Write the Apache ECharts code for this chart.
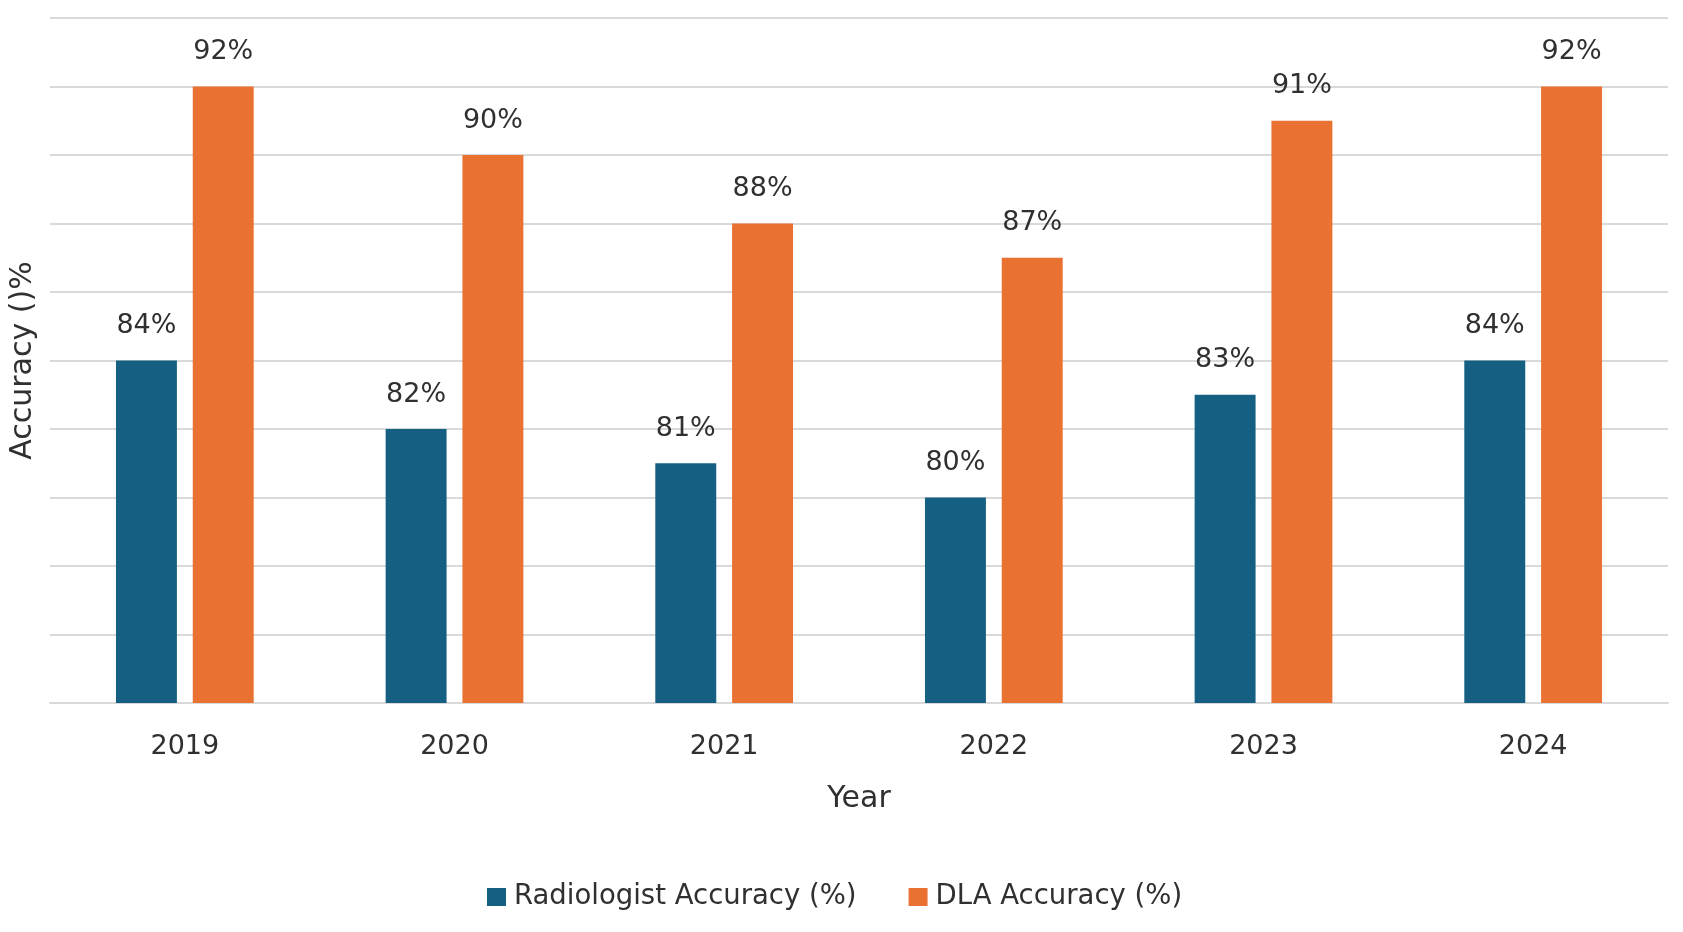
<!DOCTYPE html>
<html>
<head>
<meta charset="utf-8">
<script src="https://cdn.jsdelivr.net/npm/echarts@6/dist/echarts.min.js"></script>
<style>
html,body{margin:0;padding:0;background:#fff;}
#chart{width:1683px;height:932px;}
</style>
</head>
<body>
<div id="chart"></div>
<script>
const years = ['2019', '2020', '2021', '2022', '2023', '2024'];
const radiologistAccuracy = [84, 82, 81, 80, 83, 84];
const dlaAccuracy = [92, 90, 88, 87, 91, 92];
const seriesNames = ['Radiologist Accuracy (%)', 'DLA Accuracy (%)'];
const xAxisTitle = 'Year';
const yAxisTitle = 'Accuracy ()%';

const FONT = 'DejaVu Sans';
const TEXT = '#303030';

const chart = echarts.init(document.getElementById('chart'), null, {renderer: 'canvas'});
const labelCfg = {
  show: true,
  position: 'top',
  distance: 21,
  formatter: '{c}%',
  fontFamily: FONT,
  fontSize: 27,
  color: TEXT
};
chart.setOption({
  animation: false,
  backgroundColor: '#ffffff',
  grid: {left: 46, right: 15, top: 18, bottom: 229, containLabel: false},
  legend: {
    data: seriesNames,
    left: 482,
    top: 878,
    icon: 'rect',
    itemWidth: 19,
    itemHeight: 18,
    itemGap: 52,
    textStyle: {fontFamily: FONT, fontSize: 27.5, color: TEXT, padding: [0, 0, 0, 3]}
  },
  xAxis: {
    type: 'category',
    data: years,
    name: xAxisTitle,
    nameLocation: 'middle',
    nameGap: 81,
    nameTextStyle: {fontFamily: FONT, fontSize: 30, color: TEXT},
    axisLine: {show: true, lineStyle: {color: '#d9d9d9', width: 2}},
    axisTick: {show: false},
    axisLabel: {fontFamily: FONT, fontSize: 27, color: TEXT, margin: 30}
  },
  yAxis: {
    type: 'value',
    min: 74,
    max: 94,
    interval: 2,
    name: yAxisTitle,
    nameLocation: 'middle',
    nameRotate: 90,
    nameGap: 12,
    nameTextStyle: {fontFamily: FONT, fontSize: 30, color: TEXT},
    axisLine: {show: false},
    axisTick: {show: false},
    axisLabel: {show: false},
    splitLine: {show: true, lineStyle: {color: '#d9d9d9', width: 2}}
  },
  series: [
    {
      name: seriesNames[0],
      type: 'bar',
      data: radiologistAccuracy,
      barWidth: '22.6%',
      barGap: '26%',
      itemStyle: {color: '#156082'},
      label: labelCfg
    },
    {
      name: seriesNames[1],
      type: 'bar',
      data: dlaAccuracy,
      barWidth: '22.6%',
      barGap: '26%',
      itemStyle: {color: '#E97132'},
      label: labelCfg
    }
  ]
});
</script>
</body>
</html>
